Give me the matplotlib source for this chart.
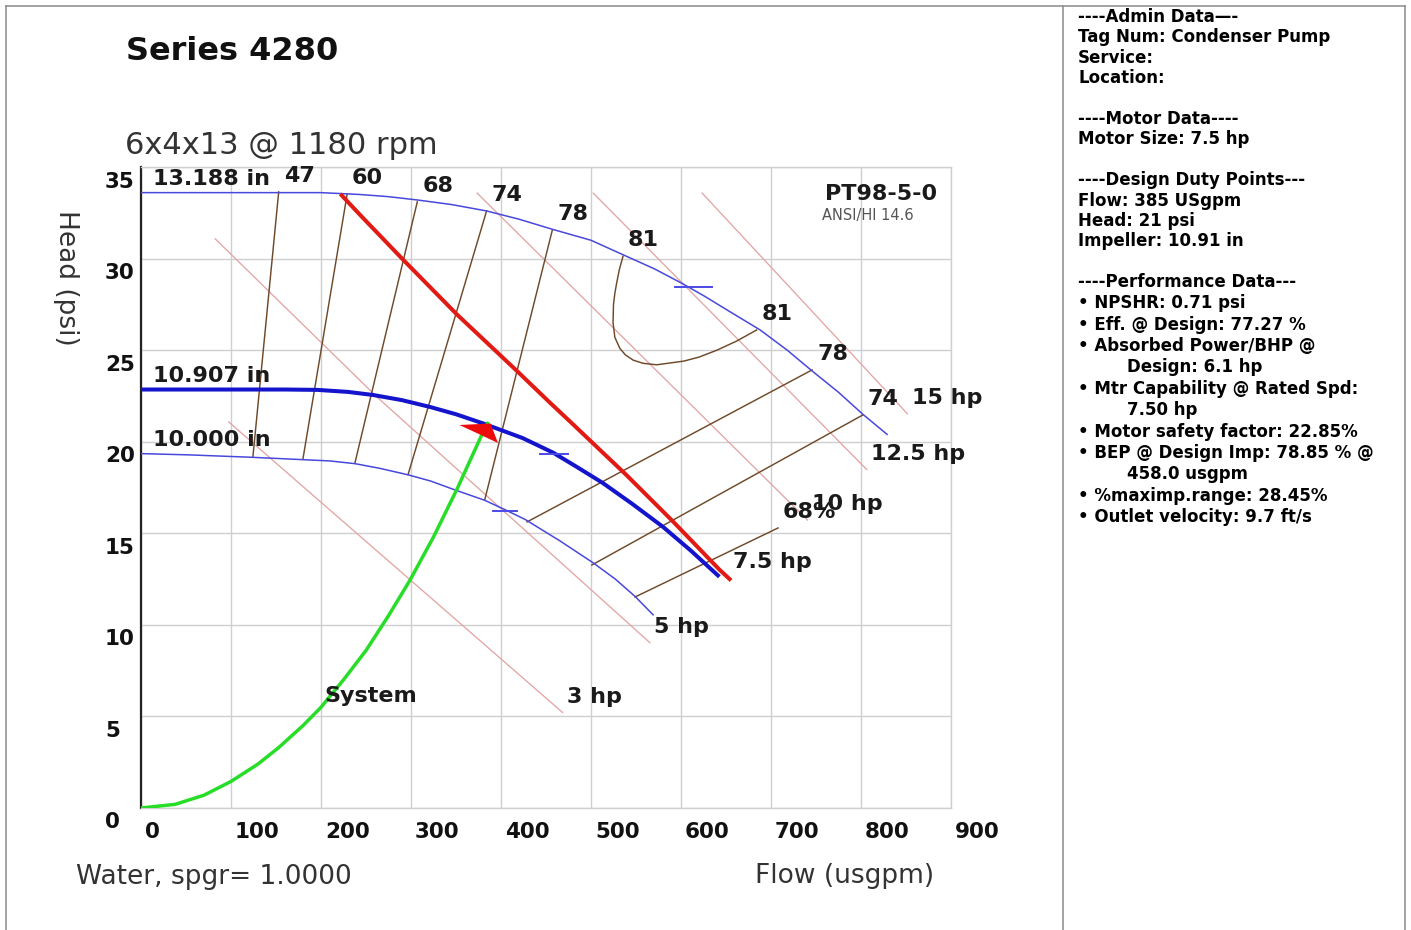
import matplotlib
matplotlib.use("Agg")
import matplotlib.pyplot as plt
from matplotlib.path import Path
from matplotlib.transforms import offset_copy

# ---------------- chart data (flow in usgpm, head in psi) ----------------
x_ticks = [0, 100, 200, 300, 400, 500, 600, 700, 800, 900]
y_ticks = [0, 5, 10, 15, 20, 25, 30, 35]

# impeller head curves
imp_max_flow = [0, 100, 200, 243, 275, 307, 345, 384, 420, 457, 500, 536, 570, 601,
                626, 651, 688, 718, 746, 775, 802, 829]
imp_max_head = [33.6, 33.6, 33.6, 33.5, 33.38, 33.2, 32.95, 32.6, 32.15, 31.6, 31.0, 30.2,
                29.45, 28.65, 27.95, 27.2, 26.1, 25.0, 23.85, 22.7, 21.5, 20.4]
imp_design_flow = [0, 100, 160, 196, 230, 258, 290, 321, 350, 380, 424, 458, 485, 513,
                   546, 580, 611, 641]
imp_design_head = [22.85, 22.85, 22.85, 22.83, 22.72, 22.55, 22.27, 21.9, 21.5, 21.0, 20.2,
                   19.4, 18.6, 17.75, 16.6, 15.35, 14.05, 12.7]
imp_min_flow = [0, 54, 123, 180, 210, 238, 265, 297, 322, 347, 382, 404, 427, 465, 502,
                527, 549, 569]
imp_min_head = [19.35, 19.28, 19.15, 19.02, 18.95, 18.8, 18.55, 18.19, 17.85, 17.4, 16.8,
                16.3, 15.75, 14.6, 13.4, 12.5, 11.55, 10.55]
imp_labels = ["13.188 in", "10.907 in", "10.000 in"]

# BEP marks on each impeller curve: (flow from, flow to, head)
bep_marks = [(593, 634, 28.45), (443, 474, 19.35), (391, 418, 16.2)]

# motor power limit (7.5 hp)
motor_flow = [223, 247, 291, 351, 418, 454, 480, 540, 591, 643, 654]
motor_head = [33.45, 32.2, 29.95, 26.95, 23.85, 22.15, 20.95, 18.15, 15.65, 13.0, 12.5]
motor_label = "7.5 hp"

# system curve
sys_flow = [0, 38, 70, 100, 130, 153, 180, 200, 225, 250, 275, 299, 325, 351, 377, 385]
sys_head = [0, 0.2, 0.7, 1.45, 2.4, 3.3, 4.5, 5.5, 7.0, 8.6, 10.5, 12.45, 14.8, 17.4, 20.2, 21.0]

# design duty point
design_flow = 385
design_head = 21

# iso-power lines
power_labels = ["3 hp", "5 hp", "10 hp", "12.5 hp", "15 hp"]
power_flow = [[97, 469], [82, 262, 566], [373, 741], [502, 807], [623, 852]]
power_head = [[21.1, 5.19], [31.1, 22.45, 9.0], [33.6, 15.7], [33.6, 18.45], [33.6, 21.5]]

# iso-efficiency lines, left branch (max impeller -> min impeller)
eff_left_labels = ["47", "60", "68", "74", "78"]
eff_left_flow = [[153, 124.4], [229, 180], [307, 237.8], [384, 296.7], [457, 382]]
eff_left_head = [[33.64, 19.2], [33.5, 19.08], [33.1, 18.86], [32.6, 18.2], [31.55, 16.84]]

# iso-efficiency lines, right branch
eff_right_labels = ["78", "74", "68%"]
eff_right_flow = [[745.6, 428.9], [802, 501], [707.8, 548.9]]
eff_right_head = [[23.92, 15.62], [21.46, 13.27], [15.29, 11.52]]

# 81 % island
eff81_flow = [535.6, 531.5, 528.5, 526.5, 525, 524.5, 526.5, 532, 538, 547, 558, 573,
              603, 620, 640, 662, 684]
eff81_head = [30.13, 29.4, 28.66, 28.1, 27.5, 26.5, 25.7, 25.1, 24.75, 24.45, 24.28, 24.2,
              24.4, 24.62, 25.0, 25.5, 26.1]
eff81_label = "81"

panel_top = [
    "----Admin Data\u2014-",
    "Tag Num: Condenser Pump",
    "Service:",
    "Location:",
    "",
    "----Motor Data----",
    "Motor Size: 7.5 hp",
    "",
    "----Design Duty Points---",
    "Flow: 385 USgpm",
    "Head: 21 psi",
    "Impeller: 10.91 in",
]
panel_bottom = [
    ("----Performance Data---", 0),
    ("\u2022 NPSHR: 0.71 psi", 0),
    ("\u2022 Eff. @ Design: 77.27 %", 0),
    ("\u2022 Absorbed Power/BHP @", 0),
    ("Design: 6.1 hp", 1),
    ("\u2022 Mtr Capability @ Rated Spd:", 0),
    ("7.50 hp", 1),
    ("\u2022 Motor safety factor: 22.85%", 0),
    ("\u2022 BEP @ Design Imp: 78.85 % @", 0),
    ("458.0 usgpm", 1),
    ("\u2022 %maximp.range: 28.45%", 0),
    ("\u2022 Outlet velocity: 9.7 ft/s", 0),
]

# ---------------- figure ----------------
W, H = 1411, 930
DPI = 100
plt.rcParams["font.family"] = ["DejaVu Sans"]
fig = plt.figure(figsize=(W / DPI, H / DPI), dpi=DPI)


def fx(px):
    return px / W


def fy(py):
    return 1 - py / H


ax_left, ax_right, ax_top, ax_bottom = 141, 951, 167, 808
ax = fig.add_axes([fx(ax_left), fy(ax_bottom), (ax_right - ax_left) / W, (ax_bottom - ax_top) / H])
ax.set_xlim(0, 900)
ax.set_ylim(0, 35)
ax.set_xticks(x_ticks)
ax.set_yticks(y_ticks)
ax.tick_params(length=0, labelbottom=False, labelleft=False)
ax.grid(True, color="#cfcfcf", lw=1.0, zorder=0)
ax.set_axisbelow(True)
for side in ("top", "right", "bottom"):
    ax.spines[side].set_color("#cfcfcf")
    ax.spines[side].set_linewidth(1.0)
ax.spines["left"].set_color("#222222")
ax.spines["left"].set_linewidth(1.6)

LBL = dict(fontsize=16, fontweight="bold", color="#1a1a1a", zorder=12)


def off(dx, dy):
    return offset_copy(ax.transData, fig=fig, x=dx, y=dy, units="dots")


# tick labels
for t in x_ticks:
    ax.text(t, 0, str(t), transform=off(4, -24), ha="left", va="center",
            fontsize=15.5, fontweight="bold", color="#111111", clip_on=False)
for t in y_ticks:
    ax.text(0, t, str(t), transform=off(-36, -14.5), ha="left", va="center",
            fontsize=15.5, fontweight="bold", color="#111111", clip_on=False)

# iso-power lines
pink = "#e3a5a5"
for fl, hd, lab in zip(power_flow, power_head, power_labels):
    ax.plot(fl, hd, color=pink, lw=0.95, zorder=2, solid_capstyle="butt")
    ax.text(fl[-1], hd[-1], lab, transform=off(4, 10), ha="left", va="baseline", **LBL)

# iso-efficiency lines
brown = "#6e4a2a"
for fl, hd, lab in zip(eff_left_flow, eff_left_head, eff_left_labels):
    ax.plot(fl, hd, color=brown, lw=1.05, zorder=3)
    ax.text(fl[0], hd[0], lab, transform=off(5, 10), ha="left", va="baseline", **LBL)
for fl, hd, lab in zip(eff_right_flow, eff_right_head, eff_right_labels):
    ax.plot(fl, hd, color=brown, lw=1.05, zorder=3)
    ax.text(fl[0], hd[0], lab, transform=off(5, 10), ha="left", va="baseline", **LBL)
ax.plot(eff81_flow, eff81_head, color=brown, lw=1.05, zorder=3, solid_joinstyle="round")
ax.text(eff81_flow[0], eff81_head[0], eff81_label, transform=off(5, 10), ha="left", va="baseline", **LBL)
ax.text(eff81_flow[-1], eff81_head[-1], eff81_label, transform=off(5, 10), ha="left", va="baseline", **LBL)

# impeller curves
thin_blue = "#4848dc"
ax.plot(imp_max_flow, imp_max_head, color=thin_blue, lw=1.1, zorder=4, solid_joinstyle="round")
ax.plot(imp_min_flow, imp_min_head, color=thin_blue, lw=1.1, zorder=4, solid_joinstyle="round")
ax.plot(imp_design_flow, imp_design_head, color="#1414cc", lw=2.9, zorder=5, solid_joinstyle="round")
for fl, hd, lab in zip([imp_max_flow, imp_design_flow, imp_min_flow],
                       [imp_max_head, imp_design_head, imp_min_head], imp_labels):
    ax.text(fl[0], hd[0], lab, transform=off(12, 8), ha="left", va="baseline", **LBL)

for f0, f1, h in bep_marks:
    ax.plot([f0, f1], [h, h], color="#4a4ae6", lw=1.4, zorder=6)

# motor limit
ax.plot(motor_flow, motor_head, color="#e11b14", lw=2.9, zorder=6, solid_joinstyle="round")
ax.text(motor_flow[-1], motor_head[-1], motor_label, transform=off(3, 11), ha="left", va="baseline", **LBL)

# system curve
ax.plot(sys_flow, sys_head, color="#27dd27", lw=2.5, zorder=7, solid_joinstyle="round")
ax.text(sys_flow[7], sys_head[7], "System", transform=off(3, 5), ha="left", va="baseline", **LBL)

# design point marker
tri = Path([(-29, -1.5), (2, 0), (9.5, -19.5), (-29, -1.5)],
           [Path.MOVETO, Path.LINETO, Path.LINETO, Path.CLOSEPOLY])
ax.plot([design_flow], [design_head], marker=tri, markersize=29 * 2 * 72 / DPI,
        color="#ee0a0a", markeredgewidth=0, linestyle="none", zorder=8, clip_on=False)

# model tag
ax.text(0, 0, "PT98-5-0", transform=offset_copy(ax.transAxes, fig=fig, x=825 - ax_left, y=ax_bottom - 200, units="dots"),
        ha="left", va="baseline", fontsize=16, fontweight="bold", color="#1a1a1a")
ax.text(0, 0, "ANSI/HI 14.6", transform=offset_copy(ax.transAxes, fig=fig, x=822 - ax_left, y=ax_bottom - 220, units="dots"),
        ha="left", va="baseline", fontsize=10.5, color="#555555")

# titles and axis captions
fig.text(fx(126), fy(60), "Series 4280", fontsize=23, fontweight="bold", color="#111111", va="baseline")
fig.text(fx(125), fy(154), "6x4x13 @ 1180 rpm", fontsize=22, color="#333333", va="baseline")
fig.text(fx(76), fy(884), "Water, spgr= 1.0000", fontsize=19, color="#333333", va="baseline")
fig.text(fx(755), fy(883), "Flow (usgpm)", fontsize=19, color="#333333", va="baseline")
fig.text(fx(66), fy(278), "Head (psi)", fontsize=19, color="#333333", rotation=270,
         ha="center", va="center")

# side panel
PANEL = dict(fontsize=12, fontweight="bold", color="#000000", va="center")
for i, line in enumerate(panel_top):
    if line:
        fig.text(fx(1078), fy(17 + i * 20.4), line, **PANEL)
for i, (line, indent) in enumerate(panel_bottom):
    fig.text(fx(1127 if indent else 1078), fy(282 + i * 21.36), line, **PANEL)

# frame around chart and panel
frame = dict(color="#8a8a8a", lw=1.1, transform=fig.transFigure, clip_on=False)
fig.add_artist(plt.Line2D([fx(6), fx(1405)], [fy(6), fy(6)], **frame))
fig.add_artist(plt.Line2D([fx(6), fx(6)], [fy(6), 0], **frame))
fig.add_artist(plt.Line2D([fx(1063), fx(1063)], [fy(6), 0], **frame))
fig.add_artist(plt.Line2D([fx(1405), fx(1405)], [fy(6), 0], **frame))

fig.savefig("out.png", dpi=DPI)
